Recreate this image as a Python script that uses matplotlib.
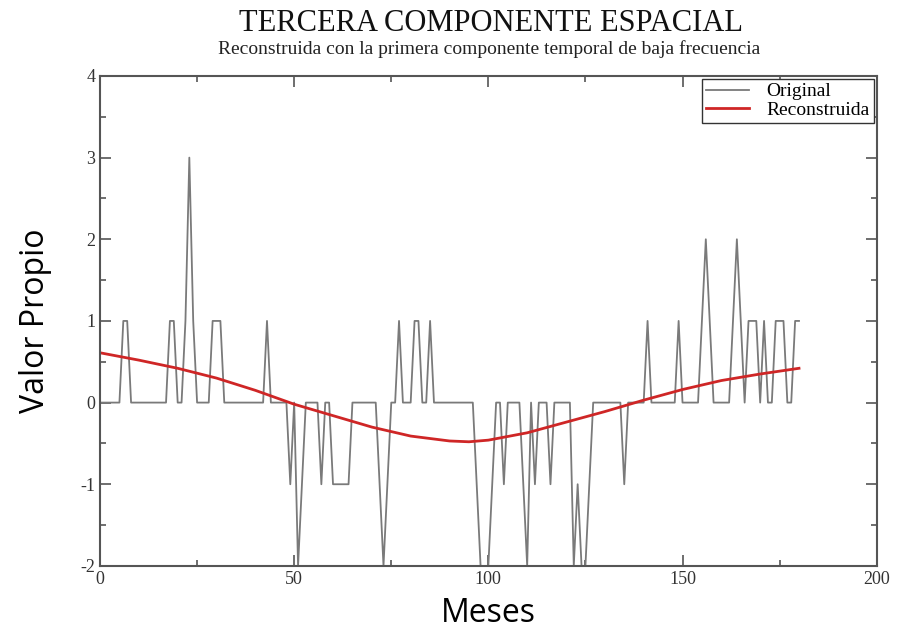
import numpy as np
import matplotlib.pyplot as plt
from matplotlib.ticker import MultipleLocator

plt.rcParams["axes.unicode_minus"] = False

# Serie original (valores mensuales, meses 0..180)
meses = np.arange(0, 181)
original = [
    0, 0, 0, 0, 0, 0, 1, 1, 0, 0,            # 0-9
    0, 0, 0, 0, 0, 0, 0, 0, 1, 1,            # 10-19
    0, 0, 1, 3, 1, 0, 0, 0, 0, 1,            # 20-29
    1, 1, 0, 0, 0, 0, 0, 0, 0, 0,            # 30-39
    0, 0, 0, 1, 0, 0, 0, 0, 0, -1,           # 40-49
    0, -2, -1, 0, 0, 0, 0, -1, 0, 0,         # 50-59
    -1, -1, -1, -1, -1, 0, 0, 0, 0, 0,       # 60-69
    0, 0, -1, -2, -1, 0, 0, 1, 0, 0,         # 70-79
    0, 1, 1, 0, 0, 1, 0, 0, 0, 0,            # 80-89
    0, 0, 0, 0, 0, 0, 0, -1, -2, -2,         # 90-99
    -2, -1, 0, 0, -1, 0, 0, 0, 0, -1,        # 100-109
    -2, 0, -1, 0, 0, 0, -1, 0, 0, 0,         # 110-119
    0, 0, -2, -1, -2, -2, -1, 0, 0, 0,       # 120-129
    0, 0, 0, 0, 0, -1, 0, 0, 0, 0,           # 130-139
    0, 1, 0, 0, 0, 0, 0, 0, 0, 1,            # 140-149
    0, 0, 0, 0, 0, 1, 2, 1, 0, 0,            # 150-159
    0, 0, 0, 1, 2, 1, 0, 1, 1, 1,            # 160-169
    0, 1, 0, 0, 1, 1, 1, 0, 0, 1,            # 170-179
    1,                                       # 180
]

# Curva reconstruida
meses_rec = [0, 10, 20, 30, 40, 50, 60, 70, 80, 90, 95, 100,
             110, 120, 130, 140, 150, 160, 170, 180]
reconstruida = [0.61, 0.52, 0.42, 0.30, 0.15, -0.02, -0.16, -0.30, -0.41,
                -0.47, -0.48, -0.46, -0.37, -0.24, -0.11, 0.03, 0.16, 0.27,
                0.35, 0.42]

serif = "Liberation Serif"

fig = plt.figure(figsize=(9.01, 6.33), dpi=100)
ax = fig.add_axes([0.111, 0.106, 0.862, 0.774])

ax.plot(meses, original, color="#7a7a7a", lw=1.3, label="Original")
ax.plot(meses_rec, reconstruida, color="#cf2626", lw=2.0, label="Reconstruida")

ax.set_xlim(0, 200)
ax.set_ylim(-2, 4)
ax.xaxis.set_major_locator(MultipleLocator(50))
ax.xaxis.set_minor_locator(MultipleLocator(25))
ax.yaxis.set_major_locator(MultipleLocator(1))
ax.yaxis.set_minor_locator(MultipleLocator(0.5))
ax.tick_params(which="both", direction="in", top=True, right=True,
               color="#555555", width=1.2)
ax.tick_params(which="major", length=8, labelsize=13, labelcolor="#333333")
ax.tick_params(which="minor", length=4)
for lab in ax.get_xticklabels() + ax.get_yticklabels():
    lab.set_fontfamily(serif)
for s in ax.spines.values():
    s.set_color("#555555")
    s.set_linewidth(1.5)

leg = ax.legend(loc="upper right", prop={"family": serif, "size": 14},
                fancybox=False, framealpha=1, edgecolor="#333333",
                borderaxespad=0.15, borderpad=0.2, handlelength=2.2,
                handletextpad=0.9, labelspacing=0.05)
leg.get_frame().set_linewidth(1.0)

ax.set_xlabel("Meses", fontfamily="Open Sans", fontsize=23, labelpad=7)
ax.set_ylabel("Valor Propio", fontfamily="Open Sans", fontsize=23, labelpad=20)

fig.text(0.545, 0.963, "TERCERA COMPONENTE ESPACIAL", ha="center", va="center",
         fontfamily=serif, fontsize=22, color="#111111")
fig.text(0.543, 0.922, "Reconstruida con la primera componente temporal de baja frecuencia",
         ha="center", va="center", fontfamily=serif, fontsize=14, color="#222222")

plt.savefig("out.png", dpi=100)
